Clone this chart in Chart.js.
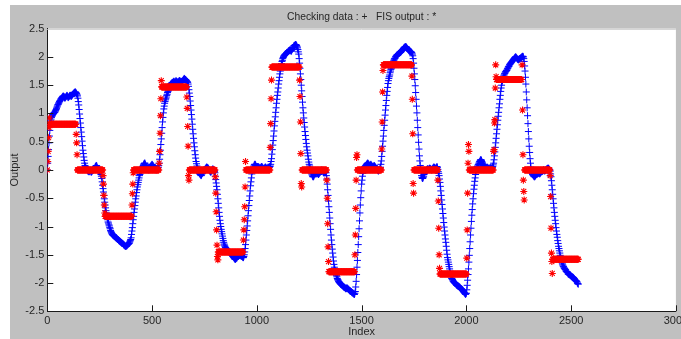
<!DOCTYPE html>
<html>
<head>
<meta charset="utf-8">
<title>Checking data vs FIS output</title>
<script src="https://cdn.jsdelivr.net/npm/chart.js@4.4.1/dist/chart.umd.min.js"></script>
<style>
  html, body { margin: 0; padding: 0; background: #ffffff; }
  #chart { display: block; }
</style>
</head>
<body>
<canvas id="chart" width="681" height="339"></canvas>
<script>
// one sample every 2 index steps, starting at index 0 (each line = 20 index steps)
var indexStep = 2;

// checking data (blue '+')
var checkingData = [
  0.0, 0.12, 0.24, 0.36, 0.48, 0.6, 0.7, 0.8, 0.87, 0.9,
  0.93, 0.95, 0.96, 0.98, 0.99, 1.0, 1.01, 1.02, 1.02, 1.04,
  1.05, 1.07, 1.09, 1.11, 1.13, 1.15, 1.16, 1.18, 1.19, 1.21,
  1.22, 1.23, 1.25, 1.26, 1.27, 1.28, 1.29, 1.3, 1.31, 1.3,
  1.3, 1.28, 1.27, 1.28, 1.29, 1.3, 1.31, 1.32, 1.31, 1.29,
  // 100
  1.28, 1.29, 1.3, 1.31, 1.32, 1.32, 1.31, 1.3, 1.31, 1.32,
  1.33, 1.34, 1.35, 1.36, 1.36, 1.37, 1.38, 1.38, 1.37, 1.36,
  1.35, 1.33, 1.31, 1.27, 1.21, 1.15, 1.07, 0.99, 0.91, 0.83,
  0.75, 0.67, 0.59, 0.51, 0.43, 0.35, 0.29, 0.23, 0.17, 0.12,
  0.08, 0.06, 0.04, 0.02, 0.01, 0.0, -0.01, -0.02, -0.02, -0.03,
  // 200
  -0.03, -0.02, 0.0, -0.01, -0.03, -0.04, -0.03, -0.02, -0.01, 0.0,
  0.0, 0.01, 0.02, 0.03, 0.05, 0.06, 0.07, 0.08, 0.07, 0.05,
  0.03, 0.02, 0.0, 0.0, -0.01, -0.02, -0.04, -0.05, -0.08, -0.11,
  -0.15, -0.21, -0.27, -0.33, -0.39, -0.45, -0.51, -0.57, -0.62, -0.67,
  -0.72, -0.76, -0.81, -0.85, -0.88, -0.92, -0.94, -0.97, -0.99, -1.02,
  // 300
  -1.04, -1.07, -1.09, -1.11, -1.12, -1.14, -1.15, -1.15, -1.16, -1.17,
  -1.17, -1.18, -1.19, -1.19, -1.2, -1.2, -1.21, -1.22, -1.23, -1.23,
  -1.24, -1.25, -1.26, -1.26, -1.27, -1.27, -1.28, -1.29, -1.29, -1.3,
  -1.3, -1.31, -1.32, -1.33, -1.33, -1.34, -1.35, -1.35, -1.35, -1.34,
  -1.34, -1.33, -1.32, -1.31, -1.31, -1.3, -1.29, -1.27, -1.25, -1.23,
  // 400
  -1.2, -1.14, -1.08, -1.02, -0.95, -0.88, -0.82, -0.75, -0.69, -0.63,
  -0.57, -0.51, -0.46, -0.4, -0.35, -0.3, -0.26, -0.22, -0.18, -0.14,
  -0.1, -0.08, -0.05, -0.03, -0.01, 0.0, 0.02, 0.04, 0.06, 0.08,
  0.1, 0.11, 0.12, 0.12, 0.1, 0.08, 0.06, 0.04, 0.03, 0.02,
  0.02, 0.01, 0.0, 0.01, 0.03, 0.05, 0.06, 0.07, 0.08, 0.09,
  // 500
  0.1, 0.09, 0.08, 0.07, 0.05, 0.04, 0.03, 0.02, 0.02, 0.01,
  0.0, 0.01, 0.02, 0.03, 0.04, 0.05, 0.08, 0.12, 0.19, 0.27,
  0.35, 0.45, 0.55, 0.65, 0.75, 0.85, 0.93, 1.01, 1.08, 1.13,
  1.18, 1.21, 1.24, 1.26, 1.29, 1.32, 1.34, 1.37, 1.39, 1.41,
  1.43, 1.45, 1.47, 1.49, 1.5, 1.52, 1.53, 1.54, 1.54, 1.55,
  // 600
  1.55, 1.56, 1.57, 1.56, 1.55, 1.55, 1.56, 1.58, 1.57, 1.56,
  1.56, 1.55, 1.55, 1.56, 1.57, 1.58, 1.58, 1.57, 1.56, 1.55,
  1.55, 1.56, 1.57, 1.58, 1.59, 1.6, 1.61, 1.62, 1.61, 1.6,
  1.6, 1.59, 1.58, 1.57, 1.56, 1.55, 1.52, 1.48, 1.42, 1.36,
  1.3, 1.22, 1.14, 1.06, 0.98, 0.9, 0.81, 0.72, 0.64, 0.56,
  // 700
  0.48, 0.41, 0.34, 0.27, 0.21, 0.15, 0.11, 0.07, 0.04, 0.02,
  0.0, -0.02, -0.04, -0.06, -0.07, -0.08, -0.09, -0.1, -0.09, -0.07,
  -0.06, -0.05, -0.04, -0.02, -0.01, 0.0, 0.01, 0.02, 0.03, 0.04,
  0.05, 0.05, 0.04, 0.04, 0.03, 0.02, 0.0, -0.01, -0.02, -0.03,
  -0.04, -0.03, -0.01, 0.0, 0.01, 0.02, 0.01, 0.0, -0.01, -0.03,
  // 800
  -0.05, -0.11, -0.17, -0.23, -0.29, -0.35, -0.43, -0.51, -0.59, -0.67,
  -0.75, -0.82, -0.89, -0.95, -1.0, -1.05, -1.09, -1.13, -1.17, -1.21,
  -1.25, -1.28, -1.31, -1.33, -1.35, -1.37, -1.38, -1.4, -1.4, -1.41,
  -1.42, -1.43, -1.44, -1.44, -1.45, -1.46, -1.47, -1.48, -1.48, -1.49,
  -1.5, -1.51, -1.52, -1.53, -1.54, -1.55, -1.56, -1.57, -1.58, -1.58,
  // 900
  -1.57, -1.56, -1.56, -1.55, -1.53, -1.52, -1.52, -1.51, -1.51, -1.5,
  -1.5, -1.51, -1.52, -1.52, -1.53, -1.53, -1.54, -1.55, -1.55, -1.53,
  -1.5, -1.45, -1.39, -1.32, -1.24, -1.15, -1.07, -0.99, -0.9, -0.81,
  -0.72, -0.63, -0.54, -0.46, -0.37, -0.28, -0.21, -0.14, -0.07, -0.02,
  0.02, 0.04, 0.05, 0.07, 0.09, 0.1, 0.1, 0.09, 0.07, 0.06,
  // 1000
  0.05, 0.05, 0.06, 0.06, 0.05, 0.05, 0.04, 0.03, 0.03, 0.04,
  0.05, 0.06, 0.06, 0.05, 0.04, 0.03, 0.02, 0.02, 0.03, 0.04,
  0.05, 0.05, 0.04, 0.03, 0.02, 0.02, 0.03, 0.03, 0.04, 0.05,
  0.05, 0.06, 0.07, 0.1, 0.15, 0.2, 0.28, 0.36, 0.44, 0.52,
  0.6, 0.69, 0.78, 0.86, 0.94, 1.02, 1.1, 1.18, 1.25, 1.32,
  // 1100
  1.38, 1.45, 1.52, 1.58, 1.64, 1.7, 1.75, 1.8, 1.84, 1.88,
  1.92, 1.94, 1.97, 1.99, 2.01, 2.02, 2.03, 2.04, 2.05, 2.05,
  2.06, 2.07, 2.08, 2.08, 2.09, 2.1, 2.11, 2.11, 2.12, 2.12,
  2.12, 2.11, 2.1, 2.11, 2.13, 2.14, 2.16, 2.17, 2.19, 2.2,
  2.2, 2.21, 2.22, 2.22, 2.21, 2.2, 2.18, 2.16, 2.13, 2.09,
  // 1200
  2.05, 1.97, 1.89, 1.8, 1.7, 1.6, 1.5, 1.4, 1.3, 1.2,
  1.1, 1.01, 0.92, 0.84, 0.76, 0.68, 0.61, 0.54, 0.47, 0.41,
  0.35, 0.3, 0.25, 0.19, 0.14, 0.1, 0.07, 0.04, 0.0, -0.02,
  -0.05, -0.07, -0.09, -0.11, -0.12, -0.12, -0.11, -0.09, -0.07, -0.06,
  -0.05, -0.04, -0.03, -0.04, -0.05, -0.06, -0.07, -0.08, -0.07, -0.06,
  // 1300
  -0.05, -0.04, -0.03, -0.02, -0.01, 0.0, -0.01, -0.02, -0.03, -0.04,
  -0.05, -0.05, -0.04, -0.04, -0.04, -0.05, -0.1, -0.16, -0.25, -0.35,
  -0.45, -0.55, -0.65, -0.75, -0.85, -0.95, -1.05, -1.15, -1.24, -1.32,
  -1.4, -1.47, -1.54, -1.61, -1.67, -1.72, -1.75, -1.78, -1.81, -1.84,
  -1.87, -1.89, -1.92, -1.94, -1.95, -1.97, -1.98, -1.99, -2.0, -2.01,
  // 1400
  -2.02, -2.02, -2.03, -2.04, -2.04, -2.05, -2.06, -2.07, -2.07, -2.08,
  -2.08, -2.09, -2.1, -2.1, -2.09, -2.09, -2.09, -2.1, -2.11, -2.11,
  -2.12, -2.13, -2.14, -2.14, -2.15, -2.15, -2.16, -2.17, -2.17, -2.18,
  -2.18, -2.19, -2.2, -2.2, -2.18, -2.15, -2.07, -1.97, -1.85, -1.72,
  -1.6, -1.46, -1.32, -1.18, -1.04, -0.9, -0.76, -0.62, -0.49, -0.37,
  // 1500
  -0.25, -0.18, -0.11, -0.06, -0.02, 0.02, 0.04, 0.05, 0.06, 0.07,
  0.08, 0.09, 0.1, 0.11, 0.12, 0.12, 0.11, 0.1, 0.09, 0.08,
  0.08, 0.09, 0.1, 0.09, 0.08, 0.07, 0.06, 0.05, 0.06, 0.07,
  0.08, 0.07, 0.06, 0.05, 0.04, 0.03, 0.02, 0.01, 0.0, -0.01,
  -0.02, -0.01, 0.0, 0.01, 0.03, 0.05, 0.1, 0.16, 0.24, 0.33,
  // 1600
  0.42, 0.51, 0.6, 0.7, 0.79, 0.88, 0.97, 1.06, 1.14, 1.23,
  1.32, 1.39, 1.46, 1.53, 1.58, 1.62, 1.65, 1.68, 1.72, 1.75,
  1.78, 1.8, 1.83, 1.85, 1.88, 1.9, 1.92, 1.94, 1.96, 1.97,
  1.98, 2.0, 2.01, 2.02, 2.03, 2.04, 2.04, 2.05, 2.06, 2.06,
  2.07, 2.07, 2.08, 2.08, 2.09, 2.1, 2.11, 2.12, 2.13, 2.14,
  // 1700
  2.15, 2.16, 2.17, 2.17, 2.18, 2.18, 2.18, 2.17, 2.16, 2.15,
  2.14, 2.13, 2.12, 2.12, 2.11, 2.1, 2.1, 2.09, 2.09, 2.08,
  2.07, 2.05, 2.02, 1.97, 1.89, 1.8, 1.7, 1.6, 1.49, 1.37,
  1.25, 1.13, 1.01, 0.88, 0.75, 0.62, 0.49, 0.37, 0.25, 0.16,
  0.08, 0.02, -0.05, -0.1, -0.13, -0.15, -0.15, -0.13, -0.11, -0.08,
  // 1800
  -0.06, -0.04, -0.03, -0.02, -0.01, 0.0, 0.01, 0.02, 0.02, 0.01,
  0.01, 0.02, 0.03, 0.03, 0.02, 0.02, 0.01, 0.0, 0.01, 0.02,
  0.03, 0.04, 0.05, 0.05, 0.04, 0.04, 0.03, 0.02, 0.03, 0.05,
  0.06, 0.04, 0.01, -0.03, -0.06, -0.1, -0.16, -0.22, -0.29, -0.37,
  -0.45, -0.53, -0.61, -0.69, -0.77, -0.85, -0.93, -1.01, -1.08, -1.15,
  // 1900
  -1.22, -1.28, -1.35, -1.42, -1.49, -1.55, -1.59, -1.63, -1.67, -1.71,
  -1.75, -1.79, -1.83, -1.86, -1.89, -1.92, -1.93, -1.94, -1.96, -1.97,
  -1.98, -1.99, -2.0, -2.0, -2.01, -2.02, -2.03, -2.04, -2.04, -2.05,
  -2.05, -2.06, -2.06, -2.07, -2.07, -2.08, -2.09, -2.1, -2.1, -2.11,
  -2.12, -2.13, -2.14, -2.15, -2.16, -2.17, -2.18, -2.19, -2.2, -2.19,
  // 2000
  -2.18, -2.12, -2.04, -1.95, -1.85, -1.75, -1.63, -1.51, -1.39, -1.27,
  -1.15, -1.03, -0.91, -0.8, -0.7, -0.6, -0.51, -0.42, -0.34, -0.27,
  -0.2, -0.14, -0.08, -0.03, 0.01, 0.05, 0.06, 0.07, 0.09, 0.1,
  0.12, 0.14, 0.15, 0.17, 0.18, 0.18, 0.17, 0.15, 0.13, 0.11,
  0.1, 0.08, 0.07, 0.06, 0.05, 0.04, 0.04, 0.03, 0.04, 0.04,
  // 2100
  0.05, 0.04, 0.03, 0.03, 0.02, 0.02, 0.03, 0.04, 0.03, 0.02,
  0.02, 0.03, 0.04, 0.06, 0.09, 0.12, 0.18, 0.25, 0.32, 0.4,
  0.48, 0.56, 0.64, 0.72, 0.8, 0.88, 0.95, 1.02, 1.1, 1.17,
  1.25, 1.32, 1.39, 1.45, 1.5, 1.55, 1.58, 1.61, 1.63, 1.66,
  1.68, 1.7, 1.71, 1.73, 1.74, 1.75, 1.76, 1.77, 1.79, 1.8,
  // 2200
  1.82, 1.83, 1.84, 1.86, 1.87, 1.88, 1.89, 1.9, 1.91, 1.92,
  1.93, 1.94, 1.95, 1.96, 1.97, 1.98, 1.99, 2.0, 2.0, 1.99,
  1.98, 1.97, 1.96, 1.96, 1.95, 1.95, 1.96, 1.97, 1.97, 1.98,
  1.98, 1.99, 2.0, 2.0, 2.01, 2.01, 2.0, 1.97, 1.92, 1.84,
  1.75, 1.64, 1.52, 1.38, 1.24, 1.1, 0.96, 0.82, 0.68, 0.55,
  // 2300
  0.42, 0.31, 0.2, 0.12, 0.05, 0.0, -0.03, -0.06, -0.08, -0.09,
  -0.1, -0.11, -0.12, -0.12, -0.11, -0.1, -0.09, -0.08, -0.07, -0.07,
  -0.06, -0.06, -0.05, -0.05, -0.06, -0.07, -0.06, -0.05, -0.04, -0.03,
  -0.03, -0.02, -0.02, -0.01, 0.0, 0.0, -0.01, -0.02, -0.01, 0.0,
  0.0, 0.01, 0.02, 0.02, 0.03, 0.03, 0.03, 0.02, 0.01, 0.0,
  // 2400
  -0.02, -0.07, -0.12, -0.19, -0.27, -0.35, -0.43, -0.51, -0.59, -0.67,
  -0.75, -0.82, -0.89, -0.95, -1.02, -1.08, -1.14, -1.19, -1.25, -1.3,
  -1.35, -1.39, -1.43, -1.47, -1.51, -1.55, -1.58, -1.61, -1.63, -1.66,
  -1.68, -1.7, -1.71, -1.73, -1.74, -1.75, -1.76, -1.77, -1.79, -1.8,
  -1.8, -1.81, -1.82, -1.84, -1.84, -1.85, -1.85, -1.86, -1.86, -1.87,
  // 2500
  -1.88, -1.88, -1.89, -1.89, -1.9, -1.9, -1.91, -1.92, -1.93, -1.94,
  -1.95, -1.96, -1.96, -1.97, -1.98, -2.0, -2.01, -2.02
];

// FIS output (red '*')
var fisOutput = [
  0.0, 0.15, 0.33, 0.57, 0.75, 0.92, 0.81, 0.81, 0.81, 0.81,
  0.81, 0.81, 0.81, 0.81, 0.81, 0.81, 0.81, 0.81, 0.81, 0.81,
  0.81, 0.81, 0.81, 0.81, 0.81, 0.81, 0.81, 0.81, 0.81, 0.81,
  0.81, 0.81, 0.81, 0.81, 0.81, 0.81, 0.81, 0.81, 0.81, 0.81,
  0.81, 0.81, 0.81, 0.81, 0.81, 0.81, 0.81, 0.81, 0.81, 0.81,
  // 100
  0.81, 0.81, 0.81, 0.81, 0.81, 0.81, 0.81, 0.81, 0.81, 0.81,
  0.81, 0.81, 0.81, 0.81, 0.81, 0.81, 0.81, 0.81, 0.81, 0.63,
  0.48, 0.27, 0.0, 0.0, 0.0, 0.0, 0.0, 0.0, 0.0, 0.0,
  0.0, 0.0, 0.0, 0.0, 0.0, 0.0, 0.0, 0.0, 0.0, 0.0,
  0.0, 0.0, 0.0, 0.0, 0.0, 0.0, 0.0, 0.0, 0.0, 0.0,
  // 200
  0.0, 0.0, 0.0, 0.0, 0.0, 0.0, 0.0, 0.0, 0.0, 0.0,
  0.0, 0.0, 0.0, 0.0, 0.0, 0.0, 0.0, 0.0, 0.0, 0.0,
  0.0, 0.0, 0.0, 0.0, 0.0, 0.0, 0.0, 0.0, 0.0, 0.0,
  0.0, 0.0, 0.0, -0.1, -0.25, -0.45, -0.62, -0.76, -0.82, -0.82,
  -0.82, -0.82, -0.82, -0.82, -0.82, -0.82, -0.82, -0.82, -0.82, -0.82,
  // 300
  -0.82, -0.82, -0.82, -0.82, -0.82, -0.82, -0.82, -0.82, -0.82, -0.82,
  -0.82, -0.82, -0.82, -0.82, -0.82, -0.82, -0.82, -0.82, -0.82, -0.82,
  -0.82, -0.82, -0.82, -0.82, -0.82, -0.82, -0.82, -0.82, -0.82, -0.82,
  -0.82, -0.82, -0.82, -0.82, -0.82, -0.82, -0.82, -0.82, -0.82, -0.82,
  -0.82, -0.82, -0.82, -0.82, -0.82, -0.82, -0.82, -0.82, -0.82, -0.82,
  // 400
  -0.82, -0.82, -0.62, -0.42, -0.25, -0.05, 0.0, 0.0, 0.0, 0.0,
  0.0, 0.0, 0.0, 0.0, 0.0, 0.0, 0.0, 0.0, 0.0, 0.0,
  0.0, 0.0, 0.0, 0.0, 0.0, 0.0, 0.0, 0.0, 0.0, 0.0,
  0.0, 0.0, 0.0, 0.0, 0.0, 0.0, 0.0, 0.0, 0.0, 0.0,
  0.0, 0.0, 0.0, 0.0, 0.0, 0.0, 0.0, 0.0, 0.0, 0.0,
  // 500
  0.0, 0.0, 0.0, 0.0, 0.0, 0.0, 0.0, 0.0, 0.0, 0.0,
  0.0, 0.0, 0.0, 0.0, 0.0, 0.0, 0.0, 0.12, 0.33, 0.65,
  0.96, 1.26, 1.58, 1.47, 1.47, 1.47, 1.47, 1.47, 1.47, 1.47,
  1.47, 1.47, 1.47, 1.47, 1.47, 1.47, 1.47, 1.47, 1.47, 1.47,
  1.47, 1.47, 1.47, 1.47, 1.47, 1.47, 1.47, 1.47, 1.47, 1.47,
  // 600
  1.47, 1.47, 1.47, 1.47, 1.47, 1.47, 1.47, 1.47, 1.47, 1.47,
  1.47, 1.47, 1.47, 1.47, 1.47, 1.47, 1.47, 1.47, 1.47, 1.47,
  1.47, 1.47, 1.47, 1.47, 1.47, 1.47, 1.47, 1.47, 1.47, 1.47,
  1.47, 1.47, 1.47, 1.29, 1.09, 0.77, 0.42, -0.1, -0.18, 0.0,
  0.0, 0.0, 0.0, 0.0, 0.0, 0.0, 0.0, 0.0, 0.0, 0.0,
  // 700
  0.0, 0.0, 0.0, 0.0, 0.0, 0.0, 0.0, 0.0, 0.0, 0.0,
  0.0, 0.0, 0.0, 0.0, 0.0, 0.0, 0.0, 0.0, 0.0, 0.0,
  0.0, 0.0, 0.0, 0.0, 0.0, 0.0, 0.0, 0.0, 0.0, 0.0,
  0.0, 0.0, 0.0, 0.0, 0.0, 0.0, 0.0, 0.0, 0.0, 0.0,
  0.0, 0.0, 0.0, 0.0, 0.0, 0.0, 0.0, 0.0, 0.0, 0.0,
  // 800
  0.0, -0.12, -0.41, -0.74, -1.06, -1.33, -1.53, -1.59, -1.45, -1.45,
  -1.45, -1.45, -1.45, -1.45, -1.45, -1.45, -1.45, -1.45, -1.45, -1.45,
  -1.45, -1.45, -1.45, -1.45, -1.45, -1.45, -1.45, -1.45, -1.45, -1.45,
  -1.45, -1.45, -1.45, -1.45, -1.45, -1.45, -1.45, -1.45, -1.45, -1.45,
  -1.45, -1.45, -1.45, -1.45, -1.45, -1.45, -1.45, -1.45, -1.45, -1.45,
  // 900
  -1.45, -1.45, -1.45, -1.45, -1.45, -1.45, -1.45, -1.45, -1.45, -1.45,
  -1.45, -1.45, -1.45, -1.45, -1.45, -1.45, -1.45, -1.45, -1.24, -1.06,
  -0.88, -0.65, -0.3, 0.15, 0.0, 0.0, 0.0, 0.0, 0.0, 0.0,
  0.0, 0.0, 0.0, 0.0, 0.0, 0.0, 0.0, 0.0, 0.0, 0.0,
  0.0, 0.0, 0.0, 0.0, 0.0, 0.0, 0.0, 0.0, 0.0, 0.0,
  // 1000
  0.0, 0.0, 0.0, 0.0, 0.0, 0.0, 0.0, 0.0, 0.0, 0.0,
  0.0, 0.0, 0.0, 0.0, 0.0, 0.0, 0.0, 0.0, 0.0, 0.0,
  0.0, 0.0, 0.0, 0.0, 0.0, 0.0, 0.0, 0.0, 0.0, 0.0,
  0.0, 0.0, 0.4, 0.82, 1.26, 1.59, 1.82, 1.82, 1.82, 1.82,
  1.82, 1.82, 1.82, 1.82, 1.82, 1.82, 1.82, 1.82, 1.82, 1.82,
  // 1100
  1.82, 1.82, 1.82, 1.82, 1.82, 1.82, 1.82, 1.82, 1.82, 1.82,
  1.82, 1.82, 1.82, 1.82, 1.82, 1.82, 1.82, 1.82, 1.82, 1.82,
  1.82, 1.82, 1.82, 1.82, 1.82, 1.82, 1.82, 1.82, 1.82, 1.82,
  1.82, 1.82, 1.82, 1.82, 1.82, 1.82, 1.82, 1.82, 1.82, 1.82,
  1.82, 1.82, 1.82, 1.82, 1.82, 1.82, 1.82, 1.82, 1.82, 1.82,
  // 1200
  1.82, 1.82, 1.59, 1.3, 0.85, 0.29, -0.24, -0.3, 0.0, 0.0,
  0.0, 0.0, 0.0, 0.0, 0.0, 0.0, 0.0, 0.0, 0.0, 0.0,
  0.0, 0.0, 0.0, 0.0, 0.0, 0.0, 0.0, 0.0, 0.0, 0.0,
  0.0, 0.0, 0.0, 0.0, 0.0, 0.0, 0.0, 0.0, 0.0, 0.0,
  0.0, 0.0, 0.0, 0.0, 0.0, 0.0, 0.0, 0.0, 0.0, 0.0,
  // 1300
  0.0, 0.0, 0.0, 0.0, 0.0, 0.0, 0.0, 0.0, 0.0, 0.0,
  0.0, 0.0, 0.0, 0.0, 0.0, 0.0, 0.0, -0.18, -0.5, -0.95,
  -1.36, -1.62, -1.8, -1.8, -1.8, -1.8, -1.8, -1.8, -1.8, -1.8,
  -1.8, -1.8, -1.8, -1.8, -1.8, -1.8, -1.8, -1.8, -1.8, -1.8,
  -1.8, -1.8, -1.8, -1.8, -1.8, -1.8, -1.8, -1.8, -1.8, -1.8,
  // 1400
  -1.8, -1.8, -1.8, -1.8, -1.8, -1.8, -1.8, -1.8, -1.8, -1.8,
  -1.8, -1.8, -1.8, -1.8, -1.8, -1.8, -1.8, -1.8, -1.8, -1.8,
  -1.8, -1.8, -1.8, -1.8, -1.8, -1.8, -1.8, -1.8, -1.8, -1.8,
  -1.8, -1.8, -1.8, -1.8, -1.5, -1.15, -0.68, -0.18, 0.22, 0.27,
  0.0, 0.0, 0.0, 0.0, 0.0, 0.0, 0.0, 0.0, 0.0, 0.0,
  // 1500
  0.0, 0.0, 0.0, 0.0, 0.0, 0.0, 0.0, 0.0, 0.0, 0.0,
  0.0, 0.0, 0.0, 0.0, 0.0, 0.0, 0.0, 0.0, 0.0, 0.0,
  0.0, 0.0, 0.0, 0.0, 0.0, 0.0, 0.0, 0.0, 0.0, 0.0,
  0.0, 0.0, 0.0, 0.0, 0.0, 0.0, 0.0, 0.0, 0.0, 0.0,
  0.0, 0.0, 0.0, 0.0, 0.0, 0.0, 0.0, 0.0, 0.37, 0.85,
  // 1600
  1.38, 1.76, 1.86, 1.86, 1.86, 1.86, 1.86, 1.86, 1.86, 1.86,
  1.86, 1.86, 1.86, 1.86, 1.86, 1.86, 1.86, 1.86, 1.86, 1.86,
  1.86, 1.86, 1.86, 1.86, 1.86, 1.86, 1.86, 1.86, 1.86, 1.86,
  1.86, 1.86, 1.86, 1.86, 1.86, 1.86, 1.86, 1.86, 1.86, 1.86,
  1.86, 1.86, 1.86, 1.86, 1.86, 1.86, 1.86, 1.86, 1.86, 1.86,
  // 1700
  1.86, 1.86, 1.86, 1.86, 1.86, 1.86, 1.86, 1.86, 1.86, 1.86,
  1.86, 1.86, 1.86, 1.86, 1.86, 1.86, 1.86, 1.86, 1.86, 1.86,
  1.66, 1.25, 0.64, -0.24, -0.41, 0.0, 0.0, 0.0, 0.0, 0.0,
  0.0, 0.0, 0.0, 0.0, 0.0, 0.0, 0.0, 0.0, 0.0, 0.0,
  0.0, 0.0, 0.0, 0.0, 0.0, 0.0, 0.0, 0.0, 0.0, 0.0,
  // 1800
  0.0, 0.0, 0.0, 0.0, 0.0, 0.0, 0.0, 0.0, 0.0, 0.0,
  0.0, 0.0, 0.0, 0.0, 0.0, 0.0, 0.0, 0.0, 0.0, 0.0,
  0.0, 0.0, 0.0, 0.0, 0.0, 0.0, 0.0, 0.0, 0.0, 0.0,
  0.0, 0.0, -0.18, -0.55, -1.03, -1.5, -1.74, -1.84, -1.84, -1.84,
  -1.84, -1.84, -1.84, -1.84, -1.84, -1.84, -1.84, -1.84, -1.84, -1.84,
  // 1900
  -1.84, -1.84, -1.84, -1.84, -1.84, -1.84, -1.84, -1.84, -1.84, -1.84,
  -1.84, -1.84, -1.84, -1.84, -1.84, -1.84, -1.84, -1.84, -1.84, -1.84,
  -1.84, -1.84, -1.84, -1.84, -1.84, -1.84, -1.84, -1.84, -1.84, -1.84,
  -1.84, -1.84, -1.84, -1.84, -1.84, -1.84, -1.84, -1.84, -1.84, -1.84,
  -1.84, -1.84, -1.84, -1.84, -1.84, -1.84, -1.84, -1.84, -1.84, -1.84,
  // 2000
  -1.84, -1.56, -1.06, -0.41, 0.12, 0.45, 0.33, 0.0, 0.0, 0.0,
  0.0, 0.0, 0.0, 0.0, 0.0, 0.0, 0.0, 0.0, 0.0, 0.0,
  0.0, 0.0, 0.0, 0.0, 0.0, 0.0, 0.0, 0.0, 0.0, 0.0,
  0.0, 0.0, 0.0, 0.0, 0.0, 0.0, 0.0, 0.0, 0.0, 0.0,
  0.0, 0.0, 0.0, 0.0, 0.0, 0.0, 0.0, 0.0, 0.0, 0.0,
  // 2100
  0.0, 0.0, 0.0, 0.0, 0.0, 0.0, 0.0, 0.0, 0.0, 0.0,
  0.0, 0.0, 0.0, 0.0, 0.0, 0.33, 0.36, 0.83, 0.89, 1.45,
  1.86, 1.65, 1.6, 1.6, 1.6, 1.6, 1.6, 1.6, 1.6, 1.6,
  1.6, 1.6, 1.6, 1.6, 1.6, 1.6, 1.6, 1.6, 1.6, 1.6,
  1.6, 1.6, 1.6, 1.6, 1.6, 1.6, 1.6, 1.6, 1.6, 1.6,
  // 2200
  1.6, 1.6, 1.6, 1.6, 1.6, 1.6, 1.6, 1.6, 1.6, 1.6,
  1.6, 1.6, 1.6, 1.6, 1.6, 1.6, 1.6, 1.6, 1.6, 1.6,
  1.6, 1.6, 1.6, 1.6, 1.6, 1.6, 1.6, 1.6, 1.6, 1.6,
  1.6, 1.6, 1.6, 1.86, 1.06, 0.27, -0.18, -0.38, -0.53, 0.0,
  0.0, 0.0, 0.0, 0.0, 0.0, 0.0, 0.0, 0.0, 0.0, 0.0,
  // 2300
  0.0, 0.0, 0.0, 0.0, 0.0, 0.0, 0.0, 0.0, 0.0, 0.0,
  0.0, 0.0, 0.0, 0.0, 0.0, 0.0, 0.0, 0.0, 0.0, 0.0,
  0.0, 0.0, 0.0, 0.0, 0.0, 0.0, 0.0, 0.0, 0.0, 0.0,
  0.0, 0.0, 0.0, 0.0, 0.0, 0.0, 0.0, 0.0, 0.0, 0.0,
  0.0, 0.0, 0.0, 0.0, 0.0, 0.0, 0.0, 0.0, 0.0, 0.0,
  // 2400
  -0.1, -0.47, -1.03, -1.47, -1.62, -1.83, -1.58, -1.58, -1.58, -1.58,
  -1.58, -1.58, -1.58, -1.58, -1.58, -1.58, -1.58, -1.58, -1.58, -1.58,
  -1.58, -1.58, -1.58, -1.58, -1.58, -1.58, -1.58, -1.58, -1.58, -1.58,
  -1.58, -1.58, -1.58, -1.58, -1.58, -1.58, -1.58, -1.58, -1.58, -1.58,
  -1.58, -1.58, -1.58, -1.58, -1.58, -1.58, -1.58, -1.58, -1.58, -1.58,
  // 2500
  -1.58, -1.58, -1.58, -1.58, -1.58, -1.58, -1.58, -1.58, -1.58, -1.58,
  -1.58, -1.58, -1.58, -1.58, -1.58, -1.58, -1.58, -1.58
];

var xTicks = [0, 500, 1000, 1500, 2000, 2500, 3000];
var yTicks = [-2.5, -2, -1.5, -1, -0.5, 0, 0.5, 1, 1.5, 2, 2.5];

var titleText = 'Checking data : +   FIS output : *';
var xLabel = 'Index';
var yLabel = 'Output';

function toPoints(values)
{
    return values.map(function(v, i) { return {x: i * indexStep, y: v}; });
}

var textColor = '#262626';
Chart.defaults.font.family = '"Liberation Sans", Arial, sans-serif';
Chart.defaults.font.size = 11;

// grey figure background, white axes box, inward tick marks
var matlabFrame = {
    id: 'matlabFrame',
    beforeDraw: function(chart)
    {
        var ctx = chart.ctx;
        var a = chart.chartArea;
        ctx.save();
        ctx.fillStyle = '#ffffff';
        ctx.fillRect(0, 0, chart.width, chart.height);
        ctx.fillStyle = '#c0c0c0';
        ctx.fillRect(10, 5, chart.width - 10, chart.height - 5);
        ctx.fillStyle = '#ffffff';
        ctx.fillRect(a.left, a.top, a.right - a.left, a.bottom - a.top);
        ctx.restore();
    },
    afterDraw: function(chart)
    {
        var ctx = chart.ctx;
        var a = chart.chartArea;
        var xs = chart.scales.x;
        var ys = chart.scales.y;
        ctx.save();
        ctx.strokeStyle = '#1a1a1a';
        ctx.lineWidth = 1;
        ctx.beginPath();
        xs.ticks.forEach(function(t)
        {
            var p = Math.round(xs.getPixelForValue(t.value)) + 0.5;
            ctx.moveTo(p, a.bottom);
            ctx.lineTo(p, a.bottom - 6);
        });
        ys.ticks.forEach(function(t)
        {
            var p = Math.round(ys.getPixelForValue(t.value)) + 0.5;
            ctx.moveTo(a.left, p);
            ctx.lineTo(a.left + 6, p);
        });
        ctx.stroke();
        ctx.strokeStyle = '#d6d6d6';
        ctx.beginPath();
        ctx.moveTo(a.left, Math.round(a.top) + 0.5);
        ctx.lineTo(a.right, Math.round(a.top) + 0.5);
        ctx.stroke();
        ctx.restore();
    }
};

new Chart(document.getElementById('chart'), {
    type: 'scatter',
    data: {
        datasets: [
            {
                label: 'FIS output',
                data: toPoints(fisOutput),
                pointStyle: 'star',
                pointRadius: 3.5,
                pointBorderWidth: 1.1,
                borderColor: '#ff0000',
                backgroundColor: '#ff0000',
                order: 0
            },
            {
                label: 'Checking data',
                data: toPoints(checkingData),
                pointStyle: 'cross',
                pointRadius: 3.5,
                pointBorderWidth: 1,
                borderColor: '#0000ff',
                backgroundColor: '#0000ff',
                order: 1
            }
        ]
    },
    options: {
        responsive: false,
        animation: false,
        events: [],
        layout: {padding: {left: 0, right: 0.7, top: 0, bottom: 0}},
        plugins: {
            legend: {display: false},
            tooltip: {enabled: false},
            title: {
                display: true,
                text: titleText,
                color: textColor,
                fullSize: false,
                font: {size: 10.3, weight: 'normal'},
                padding: {top: 10.8, bottom: 5.5}
            }
        },
        scales: {
            x: {
                type: 'linear',
                min: 0,
                max: 3000,
                grid: {display: false, drawTicks: false},
                border: {display: true, color: '#1a1a1a', width: 1},
                ticks: {
                    color: textColor,
                    padding: 3,
                    maxRotation: 0,
                    autoSkip: false,
                    callback: function(v) { return String(v); }
                },
                afterBuildTicks: function(s) { s.ticks = xTicks.map(function(v) { return {value: v}; }); },
                afterFit: function(s) { s.height = 27.7; s.paddingLeft = 0; s.paddingRight = 0; },
                title: {display: true, text: xLabel, color: textColor, font: {size: 11}, padding: {top: 0, bottom: 0}}
            },
            y: {
                type: 'linear',
                min: -2.5,
                max: 2.5,
                grid: {display: false, drawTicks: false},
                border: {display: true, color: '#1a1a1a', width: 1},
                ticks: {
                    color: textColor,
                    padding: 3,
                    autoSkip: false,
                    callback: function(v) { return String(v); }
                },
                afterBuildTicks: function(s) { s.ticks = yTicks.map(function(v) { return {value: v}; }); },
                afterFit: function(s) { s.width = 47.3; s.paddingTop = 0; s.paddingBottom = 0; },
                title: {display: true, text: yLabel, color: textColor, font: {size: 11}, padding: {top: 8.4, bottom: 0}}
            }
        }
    },
    plugins: [matlabFrame]
});
</script>
</body>
</html>
